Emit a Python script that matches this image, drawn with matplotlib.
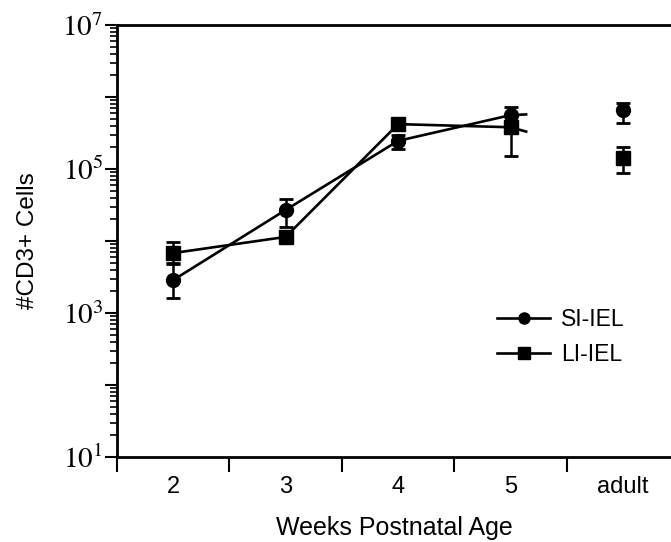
import numpy as np
import matplotlib
matplotlib.use("Agg")
import matplotlib.pyplot as plt
from matplotlib.ticker import LogLocator, FuncFormatter, FixedLocator, NullFormatter

plt.rcParams['font.family'] = ['Liberation Sans', 'DejaVu Sans']
plt.rcParams['mathtext.fontset'] = 'stix'

# ---- data ----
categories = ["2", "3", "4", "5", "adult"]
si_mean = [2870, 27000, 2.46e5, 5.6e5, 6.6e5]
si_low = [1630, 15500, 1.9e5, 4.5e5, 4.4e5]
si_high = [4900, 38000, 3.0e5, 7.2e5, 8.3e5]
li_mean = [6800, 11400, 4.2e5, 3.8e5, 1.4e5]
li_low = [4800, 9600, 3.6e5, 1.5e5, 8.7e4]
li_high = [9700, 13500, 4.8e5, 4.6e5, 2.0e5]
series_labels = ["SI-IEL", "LI-IEL"]
stub_fraction = 0.15  # connecting line drawn only partway toward "adult"

W, H = 671, 542
fig = plt.figure(figsize=(W / 100, H / 100), dpi=100)
ax = fig.add_axes([117 / W, 1 - 457 / H, 1 - 117 / W, (457 - 25) / H])

x = np.arange(len(categories))
lw = 1.9

def draw(mean, low, high, marker, label):
    mean = np.array(mean); low = np.array(low); high = np.array(high)
    lx = list(x[:4])
    ly = list(mean[:4])
    sx = x[3] + stub_fraction * (x[4] - x[3])
    sy = 10 ** (np.log10(mean[3]) + stub_fraction * (np.log10(mean[4]) - np.log10(mean[3])))
    lx.append(sx); ly.append(sy)
    ax.plot(lx, ly, color='black', lw=lw, solid_capstyle='butt', zorder=2)
    ax.errorbar(x, mean, yerr=[mean - low, high - mean], fmt='none', ecolor='black',
                elinewidth=1.8, capsize=5, capthick=2, zorder=3)
    ax.plot(x, mean, linestyle='none', marker=marker, color='black', ms=10, zorder=4)
    ax.plot([], [], color='black', lw=lw, marker=marker, ms=8, label=label)

draw(si_mean, si_low, si_high, 'o', series_labels[0])
draw(li_mean, li_low, li_high, 's', series_labels[1])

ax.set_yscale('log')
ax.set_ylim(10, 1e7)
ax.set_xlim(-0.5, (W - 173) / 112.5)

ax.yaxis.set_major_locator(LogLocator(base=10, numticks=20))
ax.yaxis.set_minor_locator(LogLocator(base=10, subs=np.arange(2, 10), numticks=20))
ax.yaxis.set_minor_formatter(NullFormatter())

def yfmt(v, pos):
    e = int(round(np.log10(v)))
    return r'$10^{%d}$' % e if e % 2 == 1 else ''
ax.yaxis.set_major_formatter(FuncFormatter(yfmt))
ax.tick_params(axis='y', which='major', direction='out', length=9, width=1.5, labelsize=21, pad=1)
ax.tick_params(axis='y', which='minor', direction='out', length=5, width=1.2)

ax.set_xticks(x)
ax.set_xticklabels(categories)
ax.xaxis.set_minor_locator(FixedLocator(np.arange(-0.5, 4.0, 1.0)))
ax.tick_params(axis='x', which='major', length=0, labelsize=17, pad=14)
ax.tick_params(axis='x', which='minor', direction='out', length=11, width=1.5)

for s in ['left', 'bottom', 'top']:
    ax.spines[s].set_linewidth(2.0)
ax.spines['right'].set_visible(False)

ax.set_xlabel('Weeks Postnatal Age', fontsize=18, labelpad=13)
ax.set_ylabel('#CD3+ Cells', fontsize=17.5, labelpad=17)

ax.legend(loc='upper left', bbox_to_anchor=((488 - 117) / (W - 117), 1 - (299 - 25) / 432),
          frameon=False, fontsize=16.5, handlelength=2.3, handletextpad=0.5,
          labelspacing=0.5, borderaxespad=0)

fig.savefig('out.png', dpi=100)
